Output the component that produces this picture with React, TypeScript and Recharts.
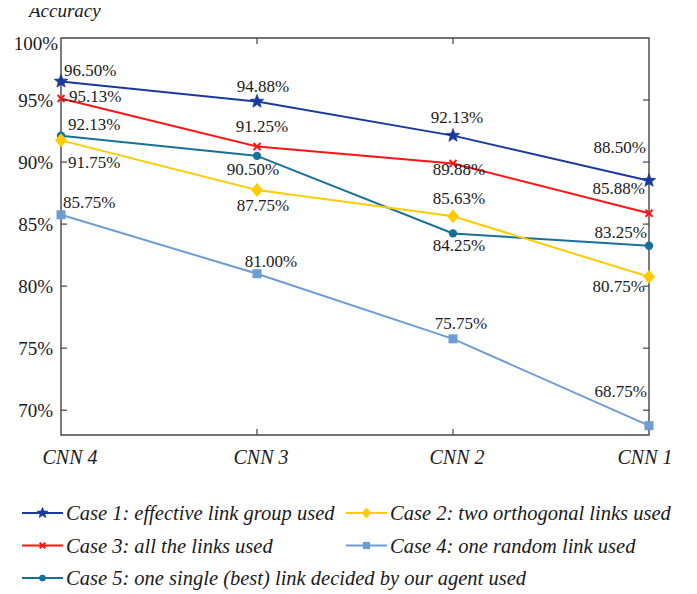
import React from 'react';
import { LineChart, Line, XAxis, YAxis, ReferenceArea, LabelList } from 'recharts';

const categories = ['CNN 4', 'CNN 3', 'CNN 2', 'CNN 1'];
const case1 = [96.5, 94.88, 92.13, 88.5];
const case2 = [91.75, 87.75, 85.63, 80.75];
const case3 = [95.13, 91.25, 89.88, 85.88];
const case4 = [85.75, 81.0, 75.75, 68.75];
const case5 = [92.13, 90.5, 84.25, 83.25];
const yTicks = [70, 75, 80, 85, 90, 95, 100];
const seriesNames = [
  'Case 1: effective link group used',
  'Case 2: two orthogonal links used',
  'Case 3: all the links used',
  'Case 4: one random link used',
  'Case 5: one single (best) link decided by our agent used',
];

const data = categories.map((cat, i) => ({
  cat,
  c1: case1[i],
  c2: case2[i],
  c3: case3[i],
  c4: case4[i],
  c5: case5[i],
}));

const FONT = '"Liberation Serif", "Times New Roman", serif';
const W = 689;
const H = 480;
const PL = 53;
const PR = 641;
const PT = 30;
const PB = 427;

type Kind = 'star' | 'cross' | 'diamond' | 'square' | 'circle';

function starPath(cx: number, cy: number, R: number) {
  const r = R * 0.42;
  let d = '';
  for (let i = 0; i < 10; i++) {
    const rad = i % 2 === 0 ? R : r;
    const a = -Math.PI / 2 + (i * Math.PI) / 5;
    d += (i === 0 ? 'M' : 'L') + (cx + rad * Math.cos(a)).toFixed(2) + ',' + (cy + rad * Math.sin(a)).toFixed(2);
  }
  return d + 'Z';
}

function Marker({ kind, cx, cy, color, s = 1 }: { kind: Kind; cx: number; cy: number; color: string; s?: number }) {
  if (kind === 'star') return <path d={starPath(cx, cy, 7 * s)} fill={color} stroke={color} strokeWidth={0.8} />;
  if (kind === 'cross') {
    const h = 3.5 * s;
    return (
      <g stroke={color} strokeWidth={2}>
        <line x1={cx - h} y1={cy - h} x2={cx + h} y2={cy + h} />
        <line x1={cx - h} y1={cy + h} x2={cx + h} y2={cy - h} />
      </g>
    );
  }
  if (kind === 'diamond') {
    const w = 6 * s;
    const h = 7 * s;
    return <path d={`M${cx},${cy - h}L${cx + w},${cy}L${cx},${cy + h}L${cx - w},${cy}Z`} fill={color} />;
  }
  if (kind === 'square') {
    const h = 4.5 * s;
    return <rect x={cx - h} y={cy - h} width={2 * h} height={2 * h} fill={color} />;
  }
  return <circle cx={cx} cy={cy} r={4.2 * s} fill={color} />;
}

type Place = [string, number, number];

const series: { key: string; name: string; color: string; kind: Kind; places: Place[] }[] = [
  {
    key: 'c1', name: seriesNames[0], color: '#173a9c', kind: 'star',
    places: [['start', 3, -11], ['middle', 6, -15], ['middle', 4, -18], ['end', -3, -33]],
  },
  {
    key: 'c3', name: seriesNames[2], color: '#ff1414', kind: 'cross',
    places: [['start', 8, -2], ['middle', 5, -20], ['middle', 6, 6], ['end', -4, -25]],
  },
  {
    key: 'c5', name: seriesNames[4], color: '#17709a', kind: 'circle',
    places: [['start', 7, -11], ['middle', -4, 14], ['middle', 6, 12.5], ['end', -2, -13]],
  },
  {
    key: 'c2', name: seriesNames[1], color: '#ffcc00', kind: 'diamond',
    places: [['start', 7, 22.5], ['middle', 6, 16], ['middle', 6, -18], ['end', -4, 10]],
  },
  {
    key: 'c4', name: seriesNames[3], color: '#6d9dd3', kind: 'square',
    places: [['start', 2, -12], ['middle', 14, -12], ['middle', 8, -15], ['end', -2, -34]],
  },
];

const xLabelDx = [9, 4, 4, -4];

const YTick = (props: any) => {
  const { y, payload } = props;
  const top = payload.value === 100;
  return (
    <g>
      <text x={PL - 8 + (top ? 5 : 0)} y={y + (top ? 5 : 0)} textAnchor="end" dominantBaseline="central" fontFamily={FONT} fontSize={19} fill="#1a1a1a">
        {payload.value}%
      </text>
      {!top && (
        <>
          <line x1={PL} x2={PL + 6} y1={y} y2={y} stroke="#444" strokeWidth={1.2} />
          <line x1={PR - 6} x2={PR} y1={y} y2={y} stroke="#444" strokeWidth={1.2} />
        </>
      )}
    </g>
  );
};

const XTick = (props: any) => {
  const { x, payload, index } = props;
  const inner = index > 0 && index < categories.length - 1;
  return (
    <g>
      <text x={x + xLabelDx[index]} y={PB + 22} textAnchor="middle" dominantBaseline="central" fontFamily={FONT} fontStyle="italic" fontSize={20} fill="#1a1a1a">
        {payload.value}
      </text>
      {inner && (
        <>
          <line x1={x} x2={x} y1={PB} y2={PB - 6} stroke="#444" strokeWidth={1.2} />
          <line x1={x} x2={x} y1={PT} y2={PT + 6} stroke="#444" strokeWidth={1.2} />
        </>
      )}
    </g>
  );
};

const legendRows: { idx: number; col: number; row: number }[] = [
  { idx: 0, col: 0, row: 0 },
  { idx: 3, col: 1, row: 0 },
  { idx: 1, col: 0, row: 1 },
  { idx: 4, col: 1, row: 1 },
  { idx: 2, col: 0, row: 2 },
];

export default function App() {
  return (
    <div style={{ position: 'relative', width: W, height: 586, background: '#fff' }}>
      <LineChart width={W} height={H} data={data} margin={{ top: PT, right: W - PR, left: 0, bottom: 13 }} style={{ position: 'absolute', left: 0, top: 0 }}>
        <ReferenceArea x1="CNN 4" x2="CNN 1" y1={68} y2={100} fill="none" stroke="#444" strokeWidth={1.4} ifOverflow="visible" />
        <XAxis dataKey="cat" padding={{ left: 0, right: 0 }} tickSize={0} tickMargin={8} axisLine={false} tickLine={false} tick={<XTick />} interval={0} height={40} />
        <YAxis domain={[68, 100]} ticks={yTicks} type="number" allowDataOverflow width={PL} tickSize={0} tickMargin={8} axisLine={false} tickLine={false} tick={<YTick />} />
        {series.map((s) => (
          <Line
            key={s.key}
            dataKey={s.key}
            name={s.name}
            stroke={s.color}
            strokeWidth={2}
            isAnimationActive={false}
            dot={(p: any) => <Marker key={`${s.key}-d${p.index}`} kind={s.kind} cx={p.cx} cy={p.cy} color={s.color} />}
            activeDot={false}
          >
            <LabelList
              dataKey={s.key}
              content={(p: any) => {
                const pl = s.places[p.index] || ['middle', 0, -12];
                return (
                  <text
                    key={`${s.key}-l${p.index}`}
                    x={p.x + pl[1]}
                    y={p.y + pl[2]}
                    textAnchor={pl[0] as any}
                    dominantBaseline="central"
                    fontFamily={FONT}
                    fontSize={17}
                    fill="#1a1a1a"
                  >
                    {Number(p.value).toFixed(2)}%
                  </text>
                );
              }}
            />
          </Line>
        ))}
      </LineChart>
      <svg width={200} height={26} style={{ position: 'absolute', left: 0, top: -8, overflow: 'visible' }}>
        <text x={21} y={17} fontFamily={FONT} fontStyle="italic" fontSize={19} fill="#1a1a1a">
          Accuracy
        </text>
      </svg>
      <svg width={W} height={106} style={{ position: 'absolute', left: 0, top: H }}>
        {legendRows.map(({ idx, col, row }) => {
          const s = series[idx];
          const x0 = col === 0 ? 14 : 338;
          const y = 25 + row * 32.5;
          return (
            <g key={s.key}>
              <line x1={x0} x2={x0 + 41} y1={y} y2={y} stroke={s.color} strokeWidth={2} />
              <Marker kind={s.kind} cx={x0 + 20.5} cy={y} color={s.color} s={0.8} />
              <text x={x0 + 44} y={y} dominantBaseline="central" fontFamily={FONT} fontStyle="italic" fontSize={20.5} fill="#1a1a1a">
                {s.name}
              </text>
            </g>
          );
        })}
      </svg>
    </div>
  );
}
